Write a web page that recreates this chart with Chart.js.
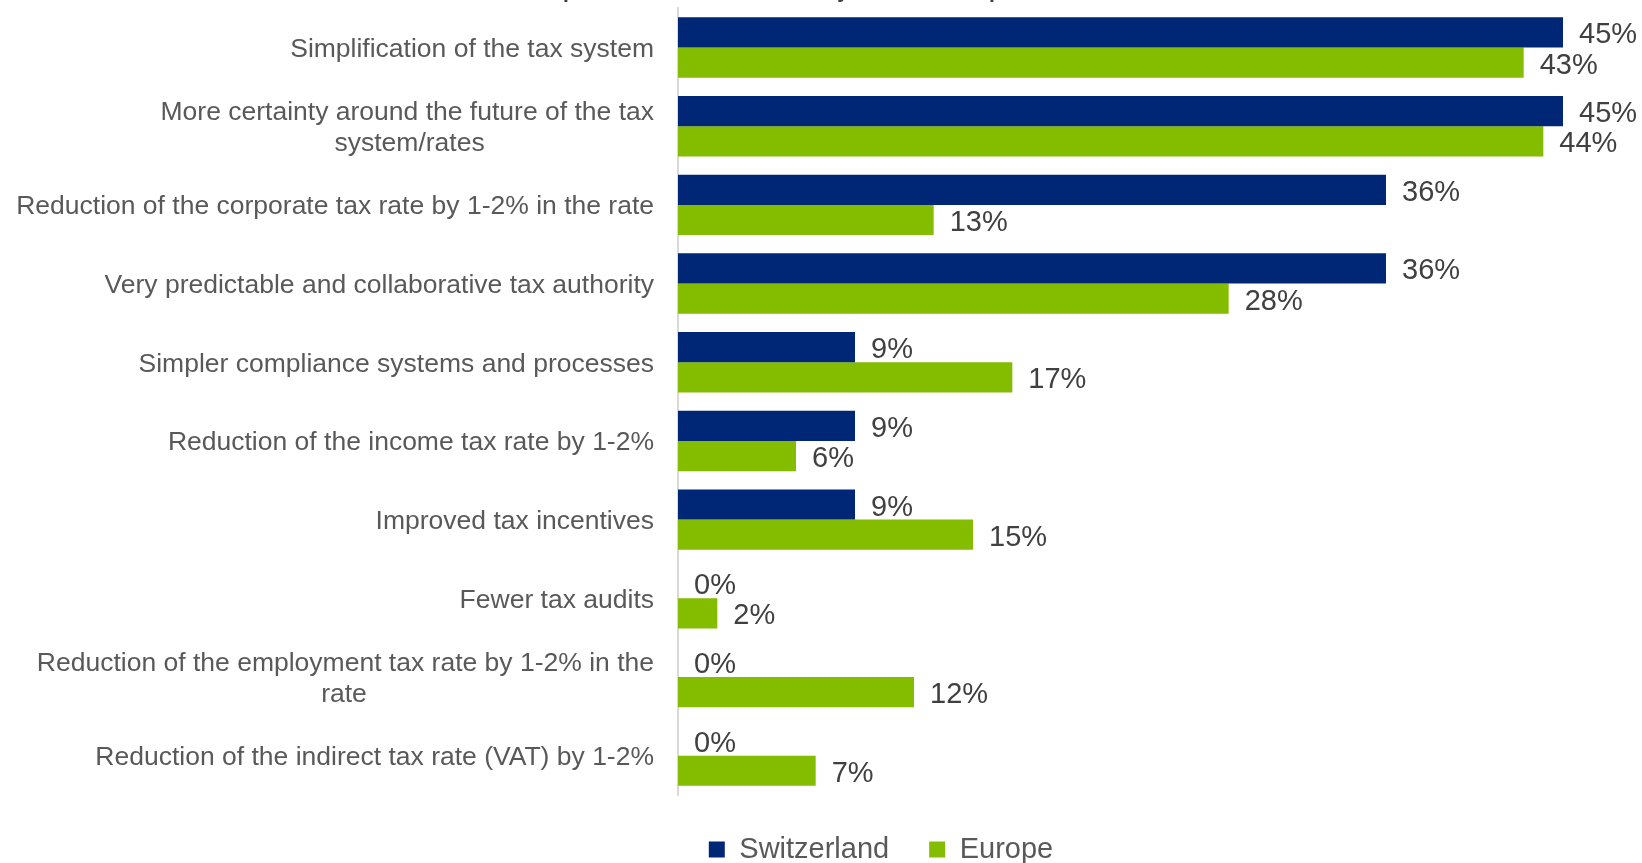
<!DOCTYPE html>
<html>
<head>
<meta charset="utf-8">
<script src="https://cdn.jsdelivr.net/npm/chart.js@4"></script>
<style>
  html, body { margin: 0; padding: 0; background: #ffffff; overflow: hidden; }
  body { width: 1642px; height: 863px; position: relative; }
  #wrap { position: absolute; left: 0; top: -20px; width: 1642px; height: 894px; }
</style>
</head>
<body>
<div id="wrap"><canvas id="chart" width="1642" height="894"></canvas></div>
<script>
// Survey answers, share of respondents (%)
const categories = [
  'Simplification of the tax system',
  ['More certainty around the future of the tax', 'system/rates'],
  'Reduction of the corporate tax rate by 1-2% in the rate',
  'Very predictable and collaborative tax authority',
  'Simpler compliance systems and processes',
  'Reduction of the income tax rate by 1-2%',
  'Improved tax incentives',
  'Fewer tax audits',
  ['Reduction of the employment tax rate by 1-2% in the', 'rate'],
  'Reduction of the indirect tax rate (VAT) by 1-2%'
];
const switzerland = [45, 45, 36, 36, 9, 9, 9, 0, 0, 0];
const europe = [43, 44, 13, 28, 17, 6, 15, 2, 12, 7];
const seriesNames = ['Switzerland', 'Europe'];
const titleText = 'Improvements most desired by the Swiss respondents';

const FONT = '"Liberation Sans", Arial, Helvetica, sans-serif';
const LABEL_SIZE = 26.5;
const LABEL_AREA_WIDTH = 678;   // width reserved for the category labels
const LEGEND_SHIFT = 70;        // legend sits a little right of the page centre

// Wrapped labels: pad the shorter lines so each line sits centred under the longest one
const measure = document.createElement('canvas').getContext('2d');
function centreLines(label) {
  if (!Array.isArray(label)) return label;
  measure.font = LABEL_SIZE + 'px ' + FONT;
  const widths = label.map(l => measure.measureText(l).width);
  const widest = Math.max(...widths);
  const space = measure.measureText(' ').width;
  return label.map((l, i) => l + ' '.repeat(Math.round((widest - widths[i]) / 2 / space)));
}

// Percentage labels just past the end of each bar
const valueLabels = {
  id: 'valueLabels',
  afterDatasetsDraw(chart) {
    const ctx = chart.ctx;
    ctx.save();
    ctx.font = '29px ' + FONT;
    ctx.fillStyle = '#404040';
    ctx.textAlign = 'left';
    ctx.textBaseline = 'middle';
    chart.data.datasets.forEach((ds, di) => {
      const meta = chart.getDatasetMeta(di);
      meta.data.forEach((bar, i) => {
        ctx.fillText(ds.data[i] + '%', bar.x + 16, bar.y + 3);
      });
    });
    ctx.restore();
  }
};

// Nudge the legend row to the right
const legendOffset = {
  id: 'legendOffset',
  afterLayout(chart) {
    if (chart.legend) {
      chart.legend.left += LEGEND_SHIFT;
      chart.legend.right += LEGEND_SHIFT;
    }
  }
};

new Chart(document.getElementById('chart'), {
  type: 'bar',
  data: {
    labels: categories.map(centreLines),
    datasets: [
      { label: seriesNames[0], data: switzerland, backgroundColor: '#002776' },
      { label: seriesNames[1], data: europe, backgroundColor: '#84BC00' }
    ]
  },
  options: {
    indexAxis: 'y',
    responsive: false,
    animation: false,
    devicePixelRatio: 1,
    datasets: { bar: { categoryPercentage: 0.768, barPercentage: 1.0 } },
    layout: { padding: { left: 0, right: 20, top: 0, bottom: 0 } },
    scales: {
      x: { display: false, min: 0, max: 48 },
      y: {
        afterFit(scale) {
          scale.width = LABEL_AREA_WIDTH;
          scale.paddingTop = 0;
          scale.paddingBottom = 0;
        },
        grid: { display: false, drawTicks: false },
        border: { display: true, color: '#d9d9d9', width: 2 },
        ticks: {
          autoSkip: false,
          padding: 24,
          labelOffset: 2,
          color: '#595959',
          font: { family: FONT, size: LABEL_SIZE, lineHeight: 1.15 }
        }
      }
    },
    plugins: {
      title: {
        display: true,
        text: titleText,
        color: '#404040',
        font: { family: FONT, size: 21, weight: 'bold', lineHeight: 1.2 },
        padding: { top: 0, bottom: 3 }
      },
      legend: {
        position: 'bottom',
        labels: {
          boxWidth: 16,
          boxHeight: 16,
          padding: 40,
          color: '#595959',
          font: { family: FONT, size: 29 }
        }
      },
      tooltip: { enabled: false }
    }
  },
  plugins: [valueLabels, legendOffset]
});
</script>
</body>
</html>
